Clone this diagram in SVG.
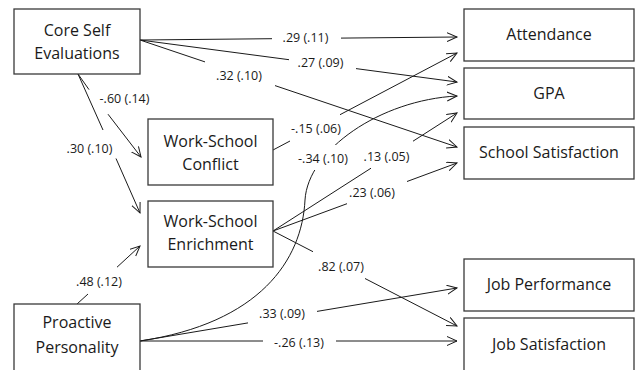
<svg xmlns="http://www.w3.org/2000/svg" width="635" height="370" viewBox="0 0 635 370">
<style>
.box{fill:#fff;stroke:#3a3a3a;stroke-width:1.3}
.nt{font-family:"Open Sans","Liberation Sans",sans-serif;font-size:16px;fill:#1a1a1a;text-anchor:middle}
.lb{font-family:"Open Sans","Liberation Sans",sans-serif;font-size:12.5px;fill:#1a1a1a;text-anchor:middle}
.c{fill:none;stroke:#1a1a1a;stroke-width:1}
</style>
<defs>
<marker id="ah" markerUnits="userSpaceOnUse" markerWidth="12" markerHeight="12" refX="10" refY="5" orient="auto">
<path d="M0,0.5 L10,5 L0,9.5" fill="none" stroke="#1a1a1a" stroke-width="1"/>
</marker>
</defs>
<rect width="635" height="370" fill="#fff"/>
<g id="connectors">
<path class="c" marker-end="url(#ah)" d="M140,40 L272,38.7 M341,38.1 L457,37"/>
<path class="c" marker-end="url(#ah)" d="M140,40 L289,59.7 M356,68.6 L457,82"/>
<path class="c" marker-end="url(#ah)" d="M140,40 L205,61.9 M275,85.6 L457,147"/>
<path class="c" marker-end="url(#ah)" d="M78,74 L89,89.6 M108,114.2 L141,157"/>
<path class="c" marker-end="url(#ah)" d="M78,74 L103,130 M116,158.5 L140,213"/>
<path class="c" marker-end="url(#ah)" d="M77,304 L88,294 M117,267.2 L140,246"/>
<path class="c" marker-end="url(#ah)" d="M273,150 L290,141 M340,114.7 L457,53"/>
<path class="c" marker-end="url(#ah)" d="M273,231 L371,168.2 M413,141.2 L457,113"/>
<path class="c" marker-end="url(#ah)" d="M273,231 L347,203.7 M407,181.5 L457,163"/>
<path class="c" marker-end="url(#ah)" d="M273,231 L313,251.7 M365,278.5 L457,326"/>
<path class="c" marker-end="url(#ah)" d="M140,341 L248,322.9 M317,311.4 L457,288"/>
<path class="c" marker-end="url(#ah)" d="M140,341 L263,341 M336,341 L457,341"/>
<path class="c" marker-end="url(#ah)" d="M140,341 C260,323 302,260 305,200 C308,150 380,100 457,96"/>
<rect x="300" y="145" width="48" height="25" fill="#fff"/>
</g>
<g id="labels">
<text class="lb" x="305.5" y="42">.29 (.11)</text>
<text class="lb" x="320.5" y="66.5">.27 (.09)</text>
<text class="lb" x="239" y="80">.32 (.10)</text>
<text class="lb" x="124.5" y="103">-.60 (.14)</text>
<text class="lb" x="89.5" y="153">.30 (.10)</text>
<text class="lb" x="316" y="133">-.15 (.06)</text>
<text class="lb" x="323" y="162.5">-.34 (.10)</text>
<text class="lb" x="386.5" y="161">.13 (.05)</text>
<text class="lb" x="372" y="196.5">.23 (.06)</text>
<text class="lb" x="341" y="270.5">.82 (.07)</text>
<text class="lb" x="99" y="286">.48 (.12)</text>
<text class="lb" x="282" y="318">.33 (.09)</text>
<text class="lb" x="299" y="346.5">-.26 (.13)</text>
</g>
<g id="core-self-evaluations">
<rect class="box" x="14" y="9" width="126" height="65"/>
<text class="nt" x="77" y="35.5">Core Self</text>
<text class="nt" x="77" y="59">Evaluations</text>
</g>
<g id="work-school-conflict">
<rect class="box" x="148" y="119" width="125" height="66"/>
<text class="nt" x="210.5" y="146.5">Work-School</text>
<text class="nt" x="210.5" y="170">Conflict</text>
</g>
<g id="work-school-enrichment">
<rect class="box" x="148" y="201" width="125" height="66"/>
<text class="nt" x="210.5" y="226.5">Work-School</text>
<text class="nt" x="210.5" y="250">Enrichment</text>
</g>
<g id="proactive-personality">
<rect class="box" x="14" y="304" width="126" height="70"/>
<text class="nt" x="77" y="328">Proactive</text>
<text class="nt" x="77" y="352.5">Personality</text>
</g>
<g id="attendance">
<rect class="box" x="464" y="9" width="170" height="52"/>
<text class="nt" x="549" y="39.5">Attendance</text>
</g>
<g id="gpa">
<rect class="box" x="464" y="68" width="170" height="51"/>
<text class="nt" x="549" y="98.5">GPA</text>
</g>
<g id="school-satisfaction">
<rect class="box" x="464" y="127" width="170" height="52"/>
<text class="nt" x="549" y="157.5">School Satisfaction</text>
</g>
<g id="job-performance">
<rect class="box" x="464" y="259" width="170" height="52"/>
<text class="nt" x="549" y="290">Job Performance</text>
</g>
<g id="job-satisfaction">
<rect class="box" x="464" y="318" width="170" height="56"/>
<text class="nt" x="549" y="349.5">Job Satisfaction</text>
</g>
</svg>
